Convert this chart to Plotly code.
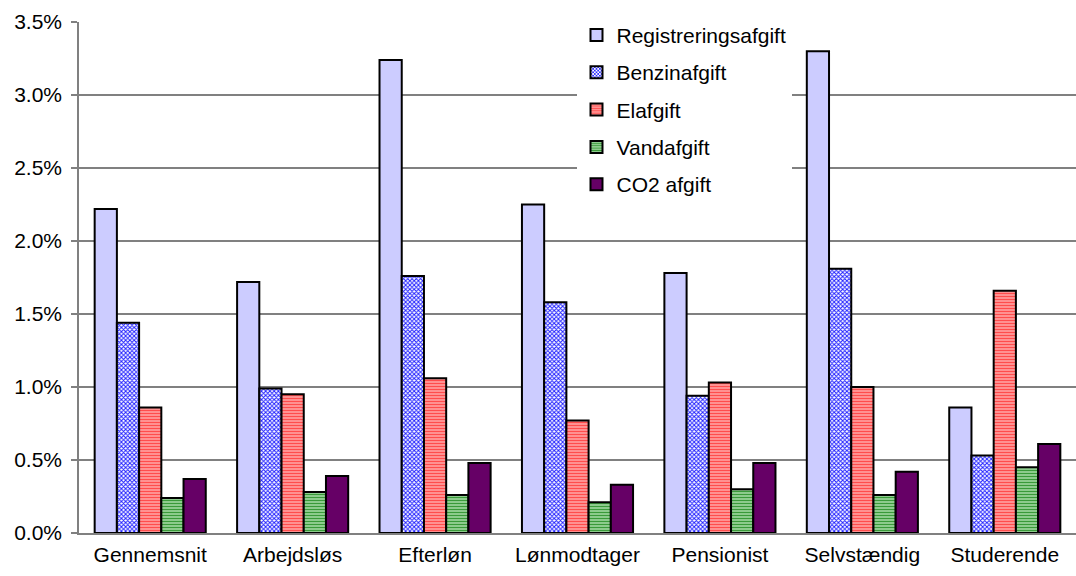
import plotly.graph_objects as go

# Household groups on the x axis
categories = ["Gennemsnit", "Arbejdsløs", "Efterløn", "Lønmodtager",
              "Pensionist", "Selvstændig", "Studerende"]

# Tax burden as share of disposable income (fractions)
registreringsafgift = [0.0222, 0.0172, 0.0324, 0.0225, 0.0178, 0.0330, 0.0086]
benzinafgift = [0.0144, 0.0099, 0.0176, 0.0158, 0.0094, 0.0181, 0.0053]
elafgift = [0.0086, 0.0095, 0.0106, 0.0077, 0.0103, 0.0100, 0.0166]
vandafgift = [0.0024, 0.0028, 0.0026, 0.0021, 0.0030, 0.0026, 0.0045]
co2_afgift = [0.0037, 0.0039, 0.0048, 0.0033, 0.0048, 0.0042, 0.0061]

y_ticks = [0.0, 0.005, 0.010, 0.015, 0.020, 0.025, 0.030, 0.035]

outline = dict(color="#000000", width=2)

series = [
    ("Registreringsafgift", registreringsafgift,
     dict(color="#CCCCFF", line=outline)),
    ("Benzinafgift", benzinafgift,
     dict(color="#FFFFFF", line=outline,
          pattern=dict(shape="x", fgcolor="#1F1FFF", bgcolor="#FFFFFF",
                       size=3, solidity=0.55, fillmode="replace"))),
    ("Elafgift", elafgift,
     dict(color="#FF9E9E", line=outline,
          pattern=dict(shape="-", fgcolor="#FF4D4D", bgcolor="#FFA8A8",
                       size=3, solidity=0.5, fillmode="replace"))),
    ("Vandafgift", vandafgift,
     dict(color="#9CD39C", line=outline,
          pattern=dict(shape="-", fgcolor="#3A9A3A", bgcolor="#A8DCA8",
                       size=3, solidity=0.5, fillmode="replace"))),
    ("CO2 afgift", co2_afgift,
     dict(color="#660066", line=outline)),
]

fig = go.Figure()
for i, (name, vals, marker) in enumerate(series):
    fig.add_trace(go.Bar(
        name=name, x=categories, y=vals, marker=marker,
        legendgroup=f"g{i}",
    ))

font_family = "Liberation Sans, Arial, sans-serif"
font_size = 21

fig.update_layout(
    width=1076, height=576,
    margin=dict(l=79, r=0, t=22, b=43),
    paper_bgcolor="#FFFFFF", plot_bgcolor="#FFFFFF",
    barmode="group", bargap=0.22, bargroupgap=0,
    font=dict(family=font_family, size=font_size, color="#000000"),
    legend=dict(
        x=0.499, y=1.014, xanchor="left", yanchor="top",
        bgcolor="#FFFFFF", borderwidth=0,
        traceorder="grouped", tracegroupgap=7,
        font=dict(family=font_family, size=font_size, color="#000000"),
    ),
    xaxis=dict(
        showline=True, linecolor="#808080", linewidth=1.5,
        ticks="", showgrid=False,
        tickfont=dict(size=font_size), ticklabelstandoff=2,
    ),
    yaxis=dict(
        range=[0, 0.035], tickvals=y_ticks, tickformat=".1%",
        showline=True, linecolor="#808080", linewidth=1.5,
        ticks="outside", ticklen=6, tickcolor="#808080", tickwidth=1.5,
        showgrid=True, gridcolor="#808080", gridwidth=1.5,
        zeroline=False, tickfont=dict(size=font_size),
        ticklabelstandoff=5,
    ),
)

fig.write_html("out.html")
